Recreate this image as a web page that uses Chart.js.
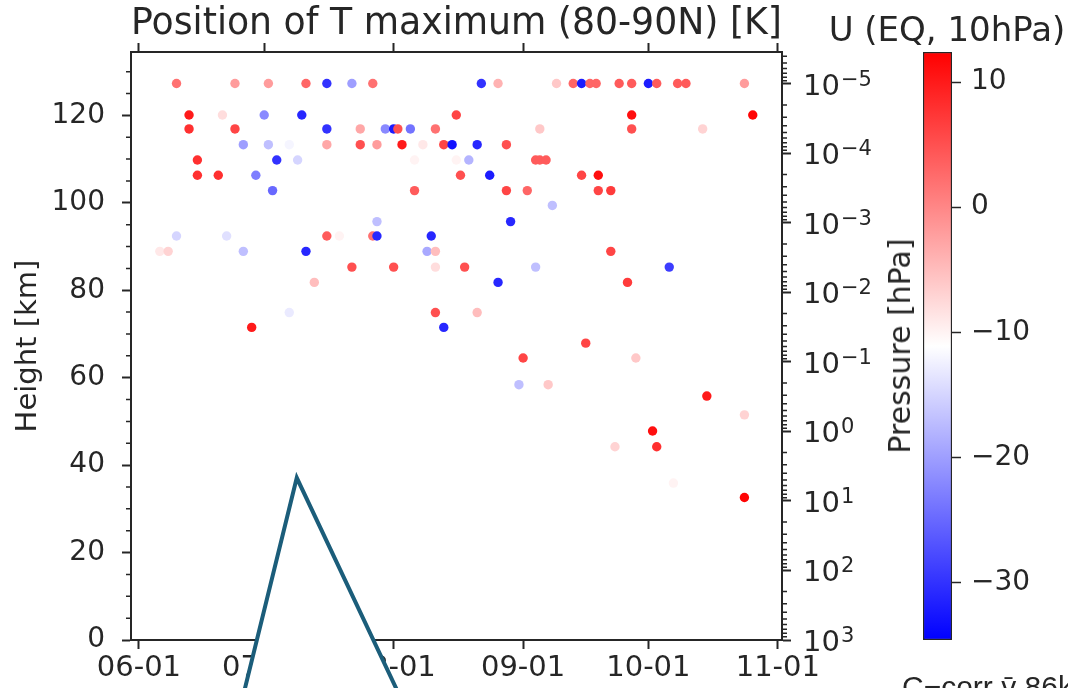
<!DOCTYPE html>
<html><head><meta charset="utf-8">
<script src="https://cdn.jsdelivr.net/npm/chart.js@4.4.0/dist/chart.umd.min.js"></script>
<style>
html,body{margin:0;padding:0;background:#fff;}
#wrap{position:relative;width:1068px;height:688px;overflow:hidden;background:#fff;}
#main{position:absolute;left:0;top:0;}
#cb{position:absolute;left:880px;top:0;}
.txt{position:absolute;font-family:"DejaVu Sans";color:#262626;white-space:nowrap;line-height:1;}
#plab{left:900px;top:346px;font-size:30px;transform:translate(-50%,-50%) rotate(-90deg);}
#cbtitle{left:947px;top:12px;font-size:34px;transform:translateX(-50%);}
#caption{left:902px;top:672px;font-size:30px;font-family:"Liberation Sans";}
</style></head><body>
<div id="wrap">
<canvas id="main" width="1068" height="688"></canvas>
<canvas id="cb" width="188" height="688"></canvas>
<div class="txt" id="plab">Pressure [hPa]</div>
<div class="txt" id="cbtitle">U (EQ, 10hPa)</div>
<div class="txt" id="caption">C−corr v̄ 86km</div>
</div>
<script>
// ---- data ----
const monthTickDays = [0, 30, 61, 92, 122, 153];          // days since 06-01
const monthTickLabels = ['06-01','07-01','08-01','09-01','10-01','11-01'];
const heightTicks = [0, 20, 40, 60, 80, 100, 120];
const pressureTicks = [1e-5, 1e-4, 1e-3, 1e-2, 1e-1, 1, 10, 100, 1000];
const uTicks = [-30, -20, -10, 0, 10];

// T-maximum positions: day since 06-01, height [km], U (EQ,10hPa)
const pointDays = [
  9,23,31,40,45,51,56,82,86,100,104,106,108,109.5,115,118,122,124,129,131,145,
  12,20,30,39,76,118,147,
  12,23,45,53,59,61,62,65,71,96,118,135,
  25,31,36,45,53,57,63,68,73,75,81,88,
  14,33,38,66,76,79,95,96,97.5,
  14,19,28,77,84,106,110,
  32,66,88,93,110,113,
  99,
  57,89,
  9,21,45,48,56,57,70,
  5,7,25,40,69,71,113,
  51,61,71,78,95,127,
  42,86,117,
  36,71,81,
  27,73,
  107,
  92,119,
  91,98,
  136,
  145,
  123,
  114,124,
  128,
  145
];
const pointHeights = [
  127.3,127.3,127.3,127.3,127.3,127.3,127.3,127.3,127.3,127.3,127.3,127.3,127.3,127.3,127.3,127.3,127.3,127.3,127.3,127.3,127.3,
  120.1,120.1,120.1,120.1,120.1,120.1,120.1,
  116.9,116.9,116.9,116.9,116.9,116.9,116.9,116.9,116.9,116.9,116.9,116.9,
  113.3,113.3,113.3,113.3,113.3,113.3,113.3,113.3,113.3,113.3,113.3,113.3,
  109.8,109.8,109.8,109.8,109.8,109.8,109.8,109.8,109.8,
  106.3,106.3,106.3,106.3,106.3,106.3,106.3,
  102.8,102.8,102.8,102.8,102.8,102.8,
  99.4,
  95.7,95.7,
  92.4,92.4,92.4,92.4,92.4,92.4,92.4,
  88.9,88.9,88.9,88.9,88.9,88.9,88.9,
  85.3,85.3,85.3,85.3,85.3,85.3,
  81.8,81.8,81.8,
  74.9,74.9,74.9,
  71.5,71.5,
  67.9,
  64.5,64.5,
  58.4,58.4,
  55.8,
  51.5,
  47.8,
  44.2,44.2,
  35.9,
  32.6
];
const pointU = [
  2,-2,-2,3,-30,-20,2,-30,-4,-6,3,-32,3,3,4,4,-32,4,4,4,-2,
  10,-8,-22,-31,6,11,12,
  8,6,-30,-3,-22,-32,5,-24,2,-6,5,-7,
  -20,-17,-12,-3,5,-2,10,-9,6,-33,-31,5,
  8,-30,-15,-10,-10,-18,4,4,4,
  8,8,-23,5,-32,6,11,
  -25,4,6,3,6,7,
  -17,
  -17,-31,
  -15,-14,4,-10,2,-31,-31,
  -9,-7,-17,-31,-19,-5,6,
  5,5,-8,5,-17,-29,
  -5,-31,7,
  -13,5,-5,
  10,-31,
  6,
  6,-6,
  -17,-6,
  10,
  -7,
  11,
  -7,8,
  -10,
  12
];
// overlaid pointer outline (day since 06-01, height km)
const pointerDays = [24.4, 37.8, 63.5];
const pointerHeights = [-14.9, 37.1, -14.9];

// ---- axis ranges ----
const xMin = -1.9, xMax = 154.0;
const hMax = 134.5;
const pTop = Math.pow(10, -5.46), pBottom = 1000;
const uMin = -34.6, uMax = 12.4;

const INK = '#262626';
const FONT = 'DejaVu Sans';
const TITLE = 'Position of T maximum (80-90N) [K]';

function bwr(u) {
  let t = (u - uMin) / (uMax - uMin);
  t = Math.max(0, Math.min(1, t));
  let r, g, b;
  if (t < 0.5) { r = g = Math.round(510 * t); b = 255; }
  else { r = 255; g = b = Math.round(510 * (1 - t)); }
  return 'rgb(' + r + ',' + g + ',' + b + ')';
}

const overlayPlugin = {
  id: 'overlayPlugin',
  beforeDatasetsDraw(chart) {
    const ctx = chart.ctx, a = chart.chartArea;
    const y = chart.scales.y, y2 = chart.scales.y2;
    ctx.save();
    ctx.strokeStyle = INK; ctx.lineWidth = 1.5;
    ctx.beginPath();
    for (let v = 5; v < hMax; v += 5) {
      if (v % 20 === 0) continue;
      const py = y.getPixelForValue(v);
      ctx.moveTo(a.left, py); ctx.lineTo(a.left - 5, py);
    }
    for (let e = -6; e <= 3; e++) {
      for (let k = 2; k <= 9; k++) {
        const v = k * Math.pow(10, e);
        if (v < pTop || v > pBottom) continue;
        const py = y2.getPixelForValue(v);
        ctx.moveTo(a.right, py); ctx.lineTo(a.right + 5, py);
      }
    }
    ctx.stroke();
    // pressure tick labels 10^n with raised exponent
    ctx.fillStyle = INK;
    ctx.textAlign = 'left';
    ctx.textBaseline = 'alphabetic';
    pressureTicks.forEach(v => {
      const py = y2.getPixelForValue(v);
      const e = Math.round(Math.log10(v));
      const base = py + 11;
      const x0 = a.right + 21;
      ctx.font = '29px "DejaVu Sans"';
      ctx.fillText('10', x0, base);
      const w = ctx.measureText('10').width;
      ctx.font = '21px "DejaVu Sans"';
      ctx.fillText(e < 0 ? '\u2212' + (-e) : String(e), x0 + w + 1, base - 9);
    });
    ctx.restore();
  },
  beforeDatasetDraw(chart, args) {
    if (args.index !== 0) return;
    const pts = args.meta.data;
    const ctx = chart.ctx;
    ctx.save();
    ctx.fillStyle = '#ffffff';
    ctx.beginPath();
    pts.forEach((p, i) => i ? ctx.lineTo(p.x, p.y) : ctx.moveTo(p.x, p.y));
    ctx.closePath();
    ctx.fill();
    ctx.restore();
  }
};

const monthTicks = s => { s.ticks = monthTickDays.map(v => ({value: v})); };
const gridOpts = {drawOnChartArea: false, drawTicks: true, tickLength: 9, tickWidth: 2, tickColor: INK};
const borderOpts = {display: true, color: INK, width: 2};

new Chart(document.getElementById('main'), {
  type: 'scatter',
  data: {
    datasets: [
      {
        type: 'line',
        label: 'pointer',
        data: pointerDays.map((d, i) => ({x: d, y: pointerHeights[i]})),
        borderColor: '#1b5d7a',
        borderWidth: 4,
        pointRadius: 0,
        fill: false,
        tension: 0,
        clip: false,
        borderJoinStyle: 'miter'
      },
      {
        label: 'Tmax',
        data: pointDays.map((d, i) => ({x: d, y: pointHeights[i]})),
        pointBackgroundColor: pointU.map(bwr),
        pointBorderWidth: 0,
        pointRadius: 4.7,
        pointHoverRadius: 4.7
      }
    ]
  },
  options: {
    responsive: false,
    animation: false,
    devicePixelRatio: 1,
    layout: {padding: 0},
    plugins: {legend: {display: false}, tooltip: {enabled: false}},
    scales: {
      x: {
        type: 'linear', position: 'bottom', min: xMin, max: xMax,
        afterBuildTicks: monthTicks,
        afterFit: s => { s.height = 48; },
        ticks: {
          callback: v => monthTickLabels[monthTickDays.indexOf(v)],
          font: {family: FONT, size: 29}, color: INK, padding: 2,
          maxRotation: 0, autoSkip: false
        },
        grid: gridOpts, border: borderOpts
      },
      x2: {
        type: 'linear', position: 'top', min: xMin, max: xMax,
        afterBuildTicks: monthTicks,
        afterFit: s => { s.height = 52; },
        ticks: {display: false},
        grid: gridOpts, border: borderOpts,
        title: {display: true, text: TITLE, font: {family: FONT, size: 36.5}, color: INK, padding: {top: 2.5, bottom: 0}}
      },
      y: {
        type: 'linear', position: 'left', min: 0, max: hMax,
        afterBuildTicks: s => { s.ticks = heightTicks.map(v => ({value: v})); },
        afterFit: s => { s.width = 131; },
        ticks: {font: {family: FONT, size: 28}, color: INK, padding: 17},
        grid: gridOpts, border: borderOpts,
        title: {display: true, text: 'Height [km]', font: {family: FONT, size: 29}, color: INK, padding: {top: 11, bottom: 0}}
      },
      y2: {
        type: 'logarithmic', position: 'right', reverse: true, min: pTop, max: pBottom,
        afterBuildTicks: s => { s.ticks = pressureTicks.map(v => ({value: v})); },
        afterFit: s => { s.width = 286; },
        ticks: {display: false},
        grid: gridOpts, border: borderOpts
      }
    }
  },
  plugins: [overlayPlugin]
});

new Chart(document.getElementById('cb'), {
  type: 'bar',
  data: {
    labels: ['U'],
    datasets: [{
      data: [[uMin, uMax]],
      backgroundColor: c => {
        const a = c.chart.chartArea;
        if (!a) return '#ffffff';
        const g = c.chart.ctx.createLinearGradient(0, a.top, 0, a.bottom);
        g.addColorStop(0, 'rgb(255,0,0)');
        g.addColorStop(0.5, 'rgb(255,255,255)');
        g.addColorStop(1, 'rgb(0,0,255)');
        return g;
      },
      borderColor: INK,
      borderWidth: 1.5,
      borderSkipped: false,
      barPercentage: 1,
      categoryPercentage: 1
    }]
  },
  options: {
    responsive: false,
    animation: false,
    devicePixelRatio: 1,
    layout: {padding: {left: 43, top: 52, bottom: 48, right: 0}},
    plugins: {legend: {display: false}, tooltip: {enabled: false}},
    scales: {
      x: {display: false},
      y: {
        position: 'right', min: uMin, max: uMax,
        afterBuildTicks: s => { s.ticks = uTicks.map(v => ({value: v})); },
        afterFit: s => { s.width = 116; },
        ticks: {callback: v => v < 0 ? '\u2212' + Math.abs(v) : String(v), font: {family: FONT, size: 28}, color: INK, padding: 10},
        grid: {drawOnChartArea: false, drawTicks: true, tickLength: 9, tickWidth: 1.5, tickColor: INK},
        border: {display: false}
      }
    }
  }
});
</script>
</body></html>
